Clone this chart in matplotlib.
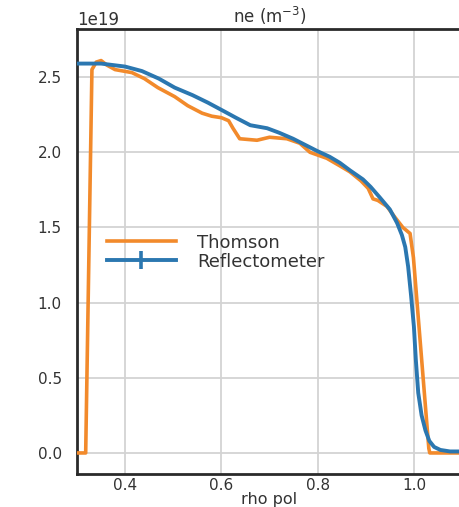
import numpy as np
import matplotlib
matplotlib.use("Agg")
import matplotlib.pyplot as plt

# Thomson scattering profile (rho pol, ne in 1e19 m^-3)
thomson_rho = [0.300, 0.318, 0.331, 0.340, 0.350, 0.362, 0.379, 0.414, 0.440,
               0.468, 0.503, 0.530, 0.560, 0.580, 0.600, 0.615, 0.624, 0.638,
               0.674, 0.700, 0.736, 0.763, 0.784, 0.819, 0.846, 0.867, 0.890,
               0.905, 0.915, 0.925, 0.944, 0.960, 0.977, 0.992, 0.999, 1.031,
               1.033, 1.100]
thomson_ne = [0.00, 0.00, 2.55, 2.60, 2.61, 2.58, 2.55, 2.53, 2.49,
              2.43, 2.37, 2.31, 2.26, 2.24, 2.23, 2.21, 2.16, 2.09,
              2.08, 2.10, 2.09, 2.06, 2.00, 1.96, 1.91, 1.87, 1.81,
              1.76, 1.69, 1.68, 1.64, 1.57, 1.50, 1.46, 1.30, 0.03,
              0.00, 0.00]

# reflectometer profile
refl_rho = [0.300, 0.350, 0.400, 0.435, 0.470, 0.503, 0.540, 0.572, 0.607,
            0.630, 0.660, 0.695, 0.720, 0.749, 0.798, 0.825, 0.846, 0.867,
            0.894, 0.910, 0.929, 0.950, 0.965, 0.975, 0.982, 0.988, 0.994,
            1.000, 1.004, 1.009, 1.016, 1.024, 1.032, 1.042, 1.055, 1.075,
            1.100]
refl_ne = [2.59, 2.59, 2.57, 2.54, 2.49, 2.43, 2.38, 2.33, 2.27,
           2.23, 2.18, 2.16, 2.13, 2.09, 2.01, 1.97, 1.93, 1.88,
           1.82, 1.77, 1.70, 1.62, 1.53, 1.45, 1.37, 1.24, 1.05,
           0.84, 0.62, 0.40, 0.25, 0.15, 0.08, 0.04, 0.02, 0.01,
           0.01]
refl_err = 0.0

plt.rcParams['font.family'] = 'DejaVu Sans'

fig = plt.figure(figsize=(4.59, 5.07), dpi=100)
ax = fig.add_axes([0.1678, 0.0651, 0.8388, 0.8777])

ax.plot(thomson_rho, np.array(thomson_ne) * 1e19, color='#f28a2b', lw=2.6,
        label='Thomson', zorder=3)
ax.errorbar(refl_rho, np.array(refl_ne) * 1e19, yerr=refl_err, color='#2b77b0',
            lw=2.8, elinewidth=2.6, label='Reflectometer', zorder=4)

ax.set_xlim(0.3, 1.1)
ax.set_ylim(-0.14e19, 2.82e19)
ax.set_xticks([0.4, 0.6, 0.8, 1.0])
ax.set_yticks([0.0, 0.5e19, 1.0e19, 1.5e19, 2.0e19, 2.5e19])

ax.grid(True, color='#d3d3d3', lw=1.3)
ax.set_axisbelow(True)
for side in ['left', 'bottom', 'top']:
    ax.spines[side].set_color('#2a2a2a')
    ax.spines[side].set_linewidth(2.0)
ax.spines['right'].set_visible(False)

ax.tick_params(axis='both', length=0, labelsize=11, colors='#333333')
ax.tick_params(axis='y', pad=11)
ax.tick_params(axis='x', pad=3)
ax.yaxis.get_offset_text().set_fontsize(12)
ax.yaxis.get_offset_text().set_color('#333333')

ax.set_title('ne (m$^{-3}$)', fontsize=12, color='#333333', pad=4)
ax.set_xlabel('rho pol', fontsize=11.5, color='#333333', labelpad=-1)

ax.legend(loc='upper left', bbox_to_anchor=(0.078, 0.54), frameon=False,
          fontsize=13, handlelength=3.8, handletextpad=1.2, labelspacing=0.05,
          borderpad=0, borderaxespad=0, labelcolor='#333333')

fig.savefig('out.png', dpi=100)
